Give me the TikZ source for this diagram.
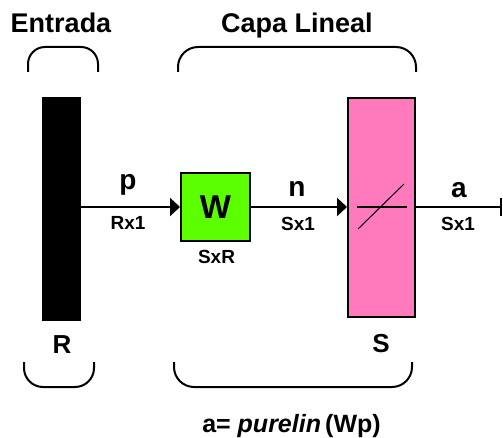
\documentclass[tikz,border=0pt]{standalone}
\usepackage{fontspec}
\setmainfont{Liberation Sans}
\usetikzlibrary{arrows.meta}
\definecolor{wgreen}{RGB}{92,255,0}
\definecolor{spink}{RGB}{255,122,189}
\begin{document}
\begin{tikzpicture}[x=1pt,y=-1pt,
 bracket/.style={line width=2pt},
 conn/.style={line width=2.5pt},
 arr/.style={conn,-{Triangle[length=10pt,width=18pt]}},
 lbl/.style={font=\bfseries\fontsize{19}{19}\selectfont, inner sep=0pt},
 big/.style={font=\bfseries\fontsize{28}{28}\selectfont, inner sep=0pt},
 head/.style={font=\bfseries\fontsize{27}{27}\selectfont, inner sep=0pt, anchor=base}]
\useasboundingbox[fill=white] (0,0) rectangle (503,438);
% headers
\node[head] (entrada) at (61,33) {Entrada};
\node[head] (capa) at (297,33) {Capa Lineal};
% brackets
\draw[bracket, rounded corners=17pt] (28,72) -- (28,47) -- (98,47) -- (98,72);
\draw[bracket, rounded corners=20pt] (178,72) -- (178,47) -- (416,47) -- (416,72);
\draw[bracket, rounded corners=19pt] (24,362) -- (24,387) -- (94,387) -- (94,362);
\draw[bracket, rounded corners=20pt] (174,362) -- (174,387) -- (412,387) -- (412,362);
% blocks
\node[fill=black, minimum width=39pt, minimum height=224pt, inner sep=0pt] (bar) at (61.5,209) {};
\node[draw, line width=2pt, fill=wgreen, minimum width=69pt, minimum height=68pt, inner sep=0pt,
      font=\bfseries\fontsize{33}{33}\selectfont] (W) at (215.5,207) {W};
\node[draw, line width=2pt, fill=spink, minimum width=67pt, minimum height=219pt, inner sep=0pt] (S) at (381.5,207.5) {};
% transfer function symbol
\draw[line width=2pt] (357,207) -- (407,207);
\draw[line width=1pt] (358,229) -- (404,184);
% connectors
\draw[arr] (bar.east |- W.west) -- (W.west);
\draw[arr] (W.east) -- (S.west |- W.east);
\coordinate (out) at (501,207);
\draw[conn] (S.east |- out) -- (out);
\draw[line width=2.5pt] (out) ++(0,-9) -- ++(0,18);
% labels
\node[big] (p) at (128,184.5) {p};
\node[lbl] (rx1) at (128,222.5) {Rx1};
\node[lbl] (sxr) at (216.5,256.5) {SxR};
\node[big] (n) at (297,189) {n};
\node[lbl] (sx1a) at (298,223.5) {Sx1};
\node[big] (a) at (459,190) {a};
\node[lbl] (sx1b) at (458,223.5) {Sx1};
\node[font=\bfseries\fontsize{26}{26}\selectfont, inner sep=0pt] (R) at (62,344.5) {R};
\node[font=\bfseries\fontsize{26}{26}\selectfont, inner sep=0pt] (Slbl) at (381,343.5) {S};
\node[font=\bfseries\fontsize{25}{25}\selectfont, inner sep=0pt] (eq) at (291.5,426) {a= \textit{purelin}\,(Wp)};
\end{tikzpicture}
\end{document}
